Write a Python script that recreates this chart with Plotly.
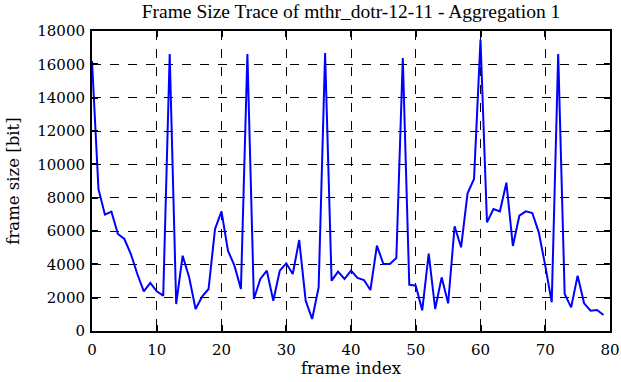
import plotly.graph_objects as go

frames = list(range(80))
sizes = [16200, 8500, 6980, 7160, 5820, 5520, 4620, 3420, 2380, 2880,
         2380, 2120, 16620, 1620, 4520, 3220, 1320, 2060, 2520, 6120,
         7180, 4820, 3920, 2520, 16620, 1920, 3120, 3620, 1820, 3620,
         4060, 3420, 5460, 1820, 720, 2620, 16680, 3020, 3560, 3120,
         3620, 3180, 3060, 2460, 5120, 4020, 4020, 4380, 16380, 2780,
         2720, 1240, 4650, 1320, 3220, 1660, 6280, 5020, 8260, 9120,
         17480, 6520, 7320, 7180, 8900, 5100, 6920, 7180, 7080, 5920,
         3920, 1720, 16620, 2220, 1420, 3320, 1660, 1220, 1260, 960]

title = "Frame Size Trace of mthr_dotr-12-11 - Aggregation 1"
x_label = "frame index"
y_label = "frame size [bit]"
x_ticks = [0, 10, 20, 30, 40, 50, 60, 70, 80]
y_ticks = [0, 2000, 4000, 6000, 8000, 10000, 12000, 14000, 16000, 18000]

label_font = "DejaVu Serif, serif"
title_font = "Liberation Serif, Times New Roman, serif"

fig = go.Figure()
fig.add_trace(go.Scatter(x=frames, y=sizes, mode="lines",
                         line=dict(color="#0000ff", width=2), showlegend=False))

axis_common = dict(
    showline=True, linecolor="black", linewidth=2, mirror="ticks",
    ticks="inside", ticklen=6, tickwidth=1.5, tickcolor="black",
    showgrid=True, gridcolor="black", griddash="dash", gridwidth=1,
    zeroline=False, automargin=False,
    tickfont=dict(family=label_font, size=15, color="black"),
)

fig.update_layout(
    width=621, height=382,
    margin=dict(l=92, r=11, t=31, b=51),
    paper_bgcolor="white", plot_bgcolor="white",
    font=dict(family=label_font, color="black"),
    title=dict(text=title, x=0.5, xref="paper", xanchor="center",
               y=1 - 11 / 382, yref="container", yanchor="middle", pad=dict(t=0, b=0),
               font=dict(family=title_font, size=19.5, color="black")),
    xaxis=dict(range=[0, 80], tickvals=x_ticks, ticktext=[str(v) for v in x_ticks],
               ticklabelstandoff=4,
               title=dict(text=x_label, font=dict(family=label_font, size=16.5), standoff=4),
               **axis_common),
    yaxis=dict(range=[0, 18000], tickvals=y_ticks, ticktext=[str(v) for v in y_ticks],
               ticklabelstandoff=2,
               title=dict(text=y_label, font=dict(family=label_font, size=16.5), standoff=14),
               **axis_common),
)

fig.write_html("out.html", config={"displayModeBar": False},
               post_script="document.body.style.margin='0';")
